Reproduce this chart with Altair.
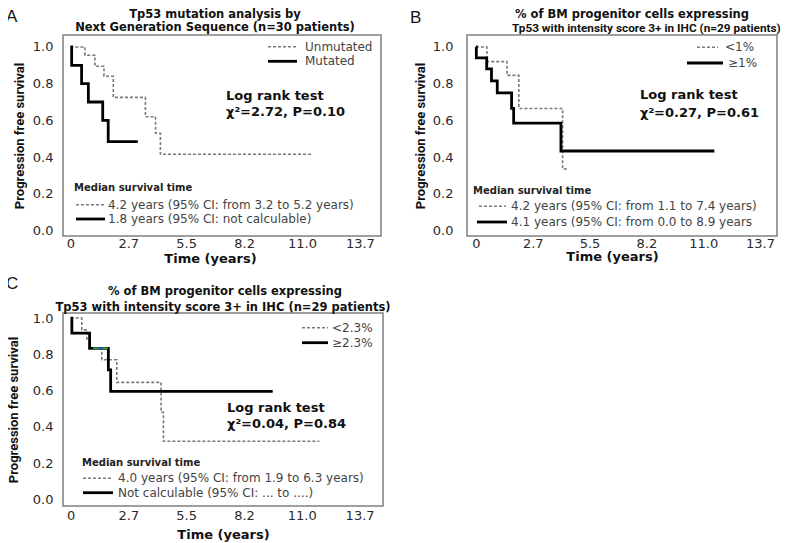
import altair as alt
import pandas as pd

# ---------------- data ----------------
# Panel A: Tp53 mutation (NGS)
A_unmut_t = [0, 0.69, 1.16, 1.59, 2.03, 3.55, 4.03, 4.26, 11.42]
A_unmut_s = [1.0, 0.955, 0.895, 0.84, 0.725, 0.62, 0.53, 0.415, 0.415]
A_mut_t = [0, 0.06, 0.53, 0.85, 1.53, 1.79, 3.19]
A_mut_s = [1.0, 0.9, 0.8, 0.7, 0.6, 0.484, 0.484]

# Panel B: <1% vs >=1%
B_lt_t = [0, 0.53, 1.5, 2.07, 4.18, 4.46]
B_lt_s = [1.0, 0.92, 0.845, 0.665, 0.335, 0.335]
B_ge_t = [0, 0.02, 0.52, 0.75, 1.03, 1.72, 1.82, 4.1, 11.5]
B_ge_s = [1.0, 0.94, 0.88, 0.815, 0.75, 0.665, 0.585, 0.433, 0.433]

# Panel C: <2.3% vs >=2.3%
C_lt_t = [0, 0.53, 0.77, 0.92, 1.48, 2.19, 4.29, 4.4, 11.79]
C_lt_s = [1.0, 0.935, 0.885, 0.835, 0.77, 0.645, 0.48, 0.32, 0.32]
C_ge_t = [0, 0.06, 0.9, 1.79, 1.9, 9.58]
C_ge_s = [1.0, 0.917, 0.833, 0.714, 0.595, 0.595]
# censor marks visible on the >=2.3% curve
C_cens_t = [1.2, 1.4, 1.63]
C_cens_s = [0.833, 0.833, 0.833]
C_cens_c = ["#2e9e3e", "#3a55c8", "#2e9e3e"]

x_ticks = [0, 2.74, 5.48, 8.22, 10.96, 13.7]
y_ticks = [0, 0.2, 0.4, 0.6, 0.8, 1.0]

FONT = "DejaVu Sans"
DASH_COL = "#7a7a7a"


def curve(t, s, dashed):
    df = pd.DataFrame({"t": t, "s": s})
    if dashed:
        m = alt.Chart(df).mark_line(interpolate="step-after", color=DASH_COL,
                                    strokeWidth=1.6, strokeDash=[3, 2])
    else:
        m = alt.Chart(df).mark_line(interpolate="step-after", color="#000000",
                                    strokeWidth=2.8)
    return m


def txt(s, x, y, size, weight="normal", color="#222222", align="left", font=FONT):
    return alt.Chart(pd.DataFrame({"lab": [s]})).mark_text(
        align=align, baseline="middle", fontSize=size, fontWeight=weight,
        font=font, color=color
    ).encode(x=alt.value(x), y=alt.value(y), text="lab:N")


def seg(x1, x2, y, dashed):
    if dashed:
        mk = dict(color=DASH_COL, strokeWidth=1.6, strokeDash=[3, 2])
    else:
        mk = dict(color="#000000", strokeWidth=2.8)
    return alt.Chart(pd.DataFrame({"k": [0]})).mark_rule(**mk).encode(
        x=alt.value(x1), x2=alt.value(x2), y=alt.value(y))


def panel(curves, xdom, ydom, w, h, ylabpad, ytitx, xlabpad, xtitx, xtity, extras):
    xs = alt.Scale(domain=xdom, nice=False, zero=False)
    ys = alt.Scale(domain=ydom, nice=False, zero=False)
    xax = alt.Axis(values=x_ticks, tickCount=12, grid=False, ticks=False, domain=False,
                   labelExpr="datum.value == 0 ? '0' : format(datum.value, '.1f')",
                   labelFont=FONT, labelFontSize=13, labelColor="#2a2a2a",
                   labelOverlap=False, labelFlush=False,
                   labelPadding=xlabpad, title="Time (years)", titleFont=FONT,
                   titleFontSize=13, titleFontWeight="bold", titleColor="#111111",
                   titleX=xtitx, titleY=xtity, titleBaseline="middle", titleAlign="center")
    yax = alt.Axis(values=y_ticks, tickCount=12, grid=False, ticks=False, domain=False,
                   format=".1f",
                   labelFont=FONT, labelFontSize=13, labelColor="#2a2a2a",
                   labelOverlap=False, labelFlush=False,
                   labelPadding=ylabpad, title="Progression free survival",
                   titleFont="Roboto", titleFontSize=13, titleFontWeight="bold",
                   titleColor="#111111", titleX=ytitx, titleY=h / 2,
                   titleBaseline="middle", titleAlign="center", titleAngle=270)
    layers = []
    first = True
    for c in curves:
        if first:
            layers.append(c.encode(x=alt.X("t:Q", scale=xs, axis=xax),
                                   y=alt.Y("s:Q", scale=ys, axis=yax)))
            first = False
        else:
            layers.append(c.encode(x=alt.X("t:Q"), y=alt.Y("s:Q")))
    return alt.layer(*layers, *extras).properties(width=w, height=h)


# ---------------- Panel A ----------------
A_extra = [
    txt("A", -57, -18, 17, font="Liberation Sans", color="#111111"),
    txt("Tp53 mutation analysis by", 152, -20, 11.5, "bold", "#111111", "center"),
    txt("Next Generation Sequence (n=30 patients)", 152, -7, 11.5, "bold", "#111111", "center"),
    seg(205, 234, 11.7, True), txt("Unmutated", 242, 11.7, 12, color="#444444"),
    seg(205, 234, 26.3, False), txt("Mutated", 242, 26.3, 12, color="#444444"),
    txt("Log rank test", 163, 60.7, 13, "bold", "#111111"),
    txt("χ²=2.72, P=0.10", 163, 77, 13, "bold", "#111111"),
    txt("Median survival time", 11, 153.3, 10, "bold", "#222222"),
    seg(13, 42, 169.7, True), txt("4.2 years (95% CI: from 3.2 to 5.2 years)", 45, 169.7, 12, color="#444444"),
    seg(13, 42, 184, False), txt("1.8 years (95% CI: not calculable)", 45, 184, 12, color="#444444"),
]
pA = panel([curve(A_unmut_t, A_unmut_s, True), curve(A_mut_t, A_mut_s, False)],
           [-0.35, 14.7], [-0.03, 1.065], 318, 201, 10, -44, 1, 147, 22, A_extra)

# ---------------- Panel B ----------------
B_extra = [
    txt("B", -57, -17, 17, font="Liberation Sans", color="#111111"),
    txt("% of BM progenitor cells expressing", 48, -20, 11.5, "bold", "#111111", "left"),
    txt("Tp53 with intensity score 3+ in IHC (n=29 patients)", 45, -7, 11.8, "bold", "#111111", "left", font="Roboto"),
    seg(230, 251, 12.3, True), txt("<1%", 258, 12.3, 12, color="#444444"),
    seg(220, 256, 28, False), txt("≥1%", 261, 28, 12, color="#444444"),
    txt("Log rank test", 173, 59.7, 13, "bold", "#111111"),
    txt("χ²=0.27, P=0.61", 173, 78, 13, "bold", "#111111"),
    txt("Median survival time", 6, 156.3, 10, "bold", "#222222"),
    seg(12, 39, 171.3, True), txt("4.2 years (95% CI: from 1.1 to 7.4 years)", 44, 171.3, 12, color="#444444"),
    seg(10, 40, 187, False), txt("4.1 years (95% CI: from 0.0 to 8.9 years", 44, 187, 12, color="#444444"),
]
pB = panel([curve(B_lt_t, B_lt_s, True), curve(B_ge_t, B_ge_s, False)],
           [-0.43, 14.52], [-0.03, 1.065], 310, 201, 14, -47, 1, 145, 20, B_extra)

# ---------------- Panel C ----------------
cens = alt.Chart(pd.DataFrame({"t": C_cens_t, "s": C_cens_s, "c": C_cens_c})).mark_point(
    shape="stroke", size=30, strokeWidth=2.2, filled=False, opacity=1
).encode(x=alt.X("t:Q"), y=alt.Y("s:Q"), stroke=alt.Stroke("c:N", scale=None))
C_extra = [
    cens,
    txt("C", -57, -29.5, 17, font="Liberation Sans", color="#111111"),
    txt("% of BM progenitor cells expressing", 162, -21.5, 11.5, "bold", "#111111", "center"),
    txt("Tp53 with intensity score 3+ in IHC (n=29 patients)", 160, -5, 11.5, "bold", "#111111", "center"),
    seg(239, 265, 14.7, True), txt("<2.3%", 269, 14.7, 12, color="#444444"),
    seg(239, 265, 29.7, False), txt("≥2.3%", 269, 29.7, 12, color="#444444"),
    txt("Log rank test", 164, 95.3, 13, "bold", "#111111"),
    txt("χ²=0.04, P=0.84", 164, 111.3, 13, "bold", "#111111"),
    txt("Median survival time", 19, 149.7, 10, "bold", "#222222"),
    seg(20, 50, 165.3, True), txt("4.0 years (95% CI: from 1.9 to 6.3 years)", 55, 165.3, 12, color="#444444"),
    seg(20, 50, 179.7, False), txt("Not calculable (95% CI: ... to ....)", 55, 179.7, 12, color="#444444"),
]
pC = panel([curve(C_lt_t, C_lt_s, True), curve(C_ge_t, C_ge_s, False)],
           [-0.36, 14.81], [-0.037, 1.028], 320, 193, 10, -50, 3, 160, 28, C_extra)

chart = alt.concat(pA, pB, pC, columns=2, spacing={"row": 77, "column": 84},
                   bounds="flush").properties(
    padding={"left": -3, "top": -1, "right": 0, "bottom": 0},
).configure_view(stroke="#808080", strokeWidth=1.5)

chart.save("out.html", embed_options={"renderer": "svg", "actions": False})
